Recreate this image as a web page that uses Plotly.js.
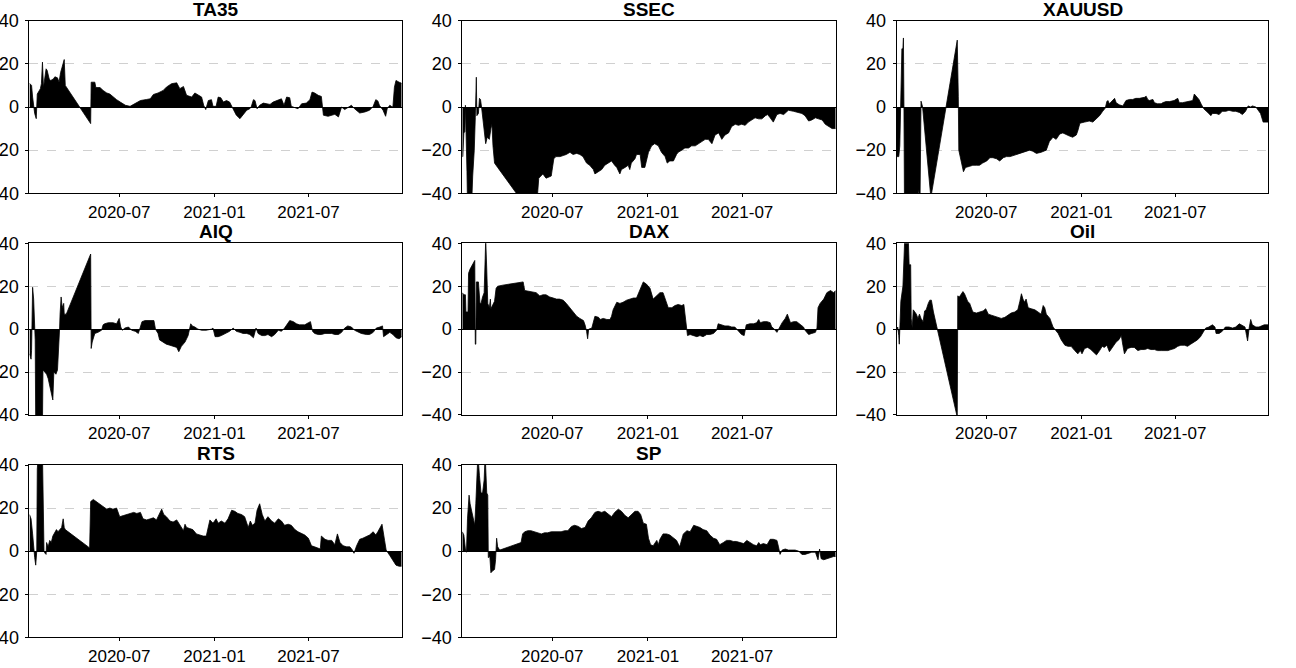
<!DOCTYPE html>
<html>
<head>
<meta charset="utf-8">
<script src="https://cdn.plot.ly/plotly-3.0.1.min.js"></script>
<style>html,body{margin:0;padding:0;background:#fff}#chart{width:1296px;height:668px}</style>
</head>
<body>
<div id="chart"></div>
<script>
const panelNames = ["TA35", "SSEC", "XAUUSD", "AIQ", "DAX", "Oil", "RTS", "SP"];
const yTicks = [-40, -20, 0, 20, 40];
const xTickDates = ["2020-07-01", "2021-01-01", "2021-07-01"];
const xTickLabels = ["2020-07", "2021-01", "2021-07"];
const xRange = ["2020-01-10", "2021-12-28"];

const TA35_dates = ["2020-01-10","2020-01-14","2020-01-16","2020-01-18","2020-01-20","2020-01-23","2020-01-24","2020-01-25","2020-01-31","2020-02-02","2020-02-04","2020-02-06","2020-02-11","2020-02-13","2020-02-17","2020-02-20","2020-02-25","2020-02-28","2020-03-04","2020-03-07","2020-03-10","2020-03-14","2020-03-17","2020-03-19","2020-05-07","2020-05-08","2020-05-15","2020-05-17","2020-05-25","2020-05-31","2020-06-07","2020-06-13","2020-06-19","2020-06-26","2020-07-03","2020-07-13","2020-07-22","2020-07-29","2020-08-04","2020-08-11","2020-08-23","2020-08-30","2020-09-05","2020-09-14","2020-09-24","2020-09-30","2020-10-10","2020-10-20","2020-10-26","2020-11-02","2020-11-08","2020-11-18","2020-11-24","2020-11-30","2020-12-07","2020-12-11","2020-12-15","2020-12-20","2020-12-26","2020-12-29","2021-01-04","2021-01-08","2021-01-13","2021-01-18","2021-01-24","2021-01-30","2021-02-03","2021-02-06","2021-02-12","2021-02-19","2021-02-25","2021-03-04","2021-03-10","2021-03-13","2021-03-17","2021-03-20","2021-03-24","2021-03-29","2021-04-05","2021-04-11","2021-04-18","2021-04-24","2021-05-04","2021-05-10","2021-05-15","2021-05-20","2021-05-26","2021-05-29","2021-06-05","2021-06-11","2021-06-18","2021-06-27","2021-07-04","2021-07-08","2021-07-13","2021-07-20","2021-07-26","2021-07-30","2021-08-08","2021-08-15","2021-08-21","2021-08-28","2021-09-03","2021-09-09","2021-09-15","2021-09-22","2021-09-28","2021-10-08","2021-10-18","2021-10-27","2021-11-03","2021-11-08","2021-11-12","2021-11-15","2021-11-22","2021-11-27","2021-11-30","2021-12-05","2021-12-08","2021-12-11","2021-12-14","2021-12-17","2021-12-23","2021-12-28"];
const TA35_values = [11,10,4.6,0,-3,-5.4,0,6,8.5,10.8,20.8,9,17.7,17,13,12.3,13,14,13.5,11.5,16,20,22,10,-7.7,11.5,11.5,9,9,7.7,6.5,6,4.6,3.4,2.3,0.8,0.3,1.2,2.3,3,3.5,3.8,5.8,6.5,7.7,9.2,10.8,11.2,8.5,9.5,5.4,4.6,6.5,5.8,4.6,0.8,-1.2,3,3.4,0.3,0.3,4.6,4.3,2.3,3,2.3,0.3,-0.8,-3.8,-5.4,-3.8,-1.5,-0.8,0.3,3.4,3,-0.8,0.8,1.8,1.6,1.2,2.3,3.4,3.8,0.8,4.6,4.3,0.3,-0.3,-0.8,1.5,1.8,3.4,6.9,6.5,5.4,4.9,-3.8,-4.3,-3.8,-3.4,-4.6,0,-1.2,-0.3,0.8,-0.8,-2.8,-2.3,-1.5,0.3,3.4,2.8,0.8,-1.5,-4.3,-0.8,0.8,0.3,0,9.2,12.3,11.5,11];

const SSEC_dates = ["2020-01-10","2020-01-11","2020-01-13","2020-01-15","2020-01-16","2020-01-17","2020-01-19","2020-01-20","2020-01-28","2020-01-30","2020-02-02","2020-02-04","2020-02-05","2020-02-06","2020-02-07","2020-02-10","2020-02-12","2020-02-14","2020-02-16","2020-02-18","2020-02-21","2020-02-24","2020-02-27","2020-03-02","2020-03-05","2020-03-07","2020-03-09","2020-03-12","2020-03-18","2020-05-05","2020-06-01","2020-06-05","2020-06-13","2020-06-19","2020-06-29","2020-07-04","2020-07-08","2020-07-16","2020-07-22","2020-07-28","2020-08-04","2020-08-10","2020-08-17","2020-08-23","2020-08-29","2020-09-05","2020-09-11","2020-09-18","2020-09-21","2020-09-27","2020-10-04","2020-10-10","2020-10-17","2020-10-23","2020-10-29","2020-11-02","2020-11-08","2020-11-11","2020-11-18","2020-11-24","2020-11-27","2020-11-30","2020-12-07","2020-12-10","2020-12-17","2020-12-20","2020-12-26","2021-01-02","2021-01-08","2021-01-14","2021-01-21","2021-01-27","2021-02-03","2021-02-07","2021-02-12","2021-02-19","2021-02-25","2021-02-28","2021-03-07","2021-03-13","2021-03-20","2021-03-26","2021-04-02","2021-04-08","2021-04-14","2021-04-21","2021-04-27","2021-05-04","2021-05-10","2021-05-17","2021-05-23","2021-05-29","2021-06-05","2021-06-11","2021-06-18","2021-06-24","2021-06-30","2021-07-07","2021-07-13","2021-07-20","2021-07-26","2021-08-02","2021-08-08","2021-08-15","2021-08-19","2021-08-24","2021-08-30","2021-09-06","2021-09-12","2021-09-19","2021-09-28","2021-10-08","2021-10-14","2021-10-24","2021-10-30","2021-11-06","2021-11-12","2021-11-19","2021-11-25","2021-12-02","2021-12-08","2021-12-14","2021-12-21","2021-12-28"];
const SSEC_values = [-23,-23,-12,-11.5,0.8,-18,-30,-45,-45,-32,-20,-5,10,13.8,-4,-3,4,3.5,0,-4,-10,-17,-14,-15,-10,-8,-18,-26,-28,-44,-46,-33,-31,-33,-32,-24,-23,-23,-22.5,-22,-21,-22,-21.5,-22,-23,-26,-27,-29,-31,-30,-29,-27,-26,-25,-27,-28,-31,-29,-28,-27,-29,-26,-24,-22,-22,-28,-28,-21,-18,-17,-18,-21,-23,-26,-25,-25,-22,-21,-20,-19,-19,-18,-18,-17,-16,-15,-15,-17,-13,-12,-15,-13,-12,-9,-8,-8.5,-8,-8.5,-7,-6,-5,-5.5,-5.5,-4,-3.5,-5,-7,-3.5,-3,-3.5,-1.5,-2,-2.5,-3,-4,-6.5,-6,-5,-5.5,-6,-8,-9,-10,-10];

const XAUUSD_dates = ["2020-01-10","2020-01-14","2020-01-16","2020-01-17","2020-01-18","2020-01-20","2020-01-22","2020-01-23","2020-01-24","2020-01-25","2020-02-18","2020-02-21","2020-02-24","2020-02-26","2020-02-28","2020-02-29","2020-03-16","2020-05-06","2020-05-08","2020-05-09","2020-05-18","2020-05-22","2020-05-30","2020-06-05","2020-06-12","2020-06-18","2020-06-24","2020-07-02","2020-07-08","2020-07-14","2020-07-21","2020-07-27","2020-08-03","2020-08-09","2020-08-16","2020-08-22","2020-08-28","2020-09-04","2020-09-10","2020-09-16","2020-09-23","2020-09-29","2020-10-06","2020-10-15","2020-10-25","2020-10-31","2020-11-07","2020-11-13","2020-11-20","2020-11-26","2020-12-03","2020-12-09","2020-12-15","2020-12-22","2020-12-25","2020-12-29","2021-01-07","2021-01-16","2021-01-23","2021-01-29","2021-02-05","2021-02-11","2021-02-16","2021-02-19","2021-02-21","2021-02-24","2021-03-03","2021-03-06","2021-03-09","2021-03-15","2021-03-22","2021-03-28","2021-04-04","2021-04-10","2021-04-16","2021-04-23","2021-05-03","2021-05-06","2021-05-09","2021-05-12","2021-05-19","2021-05-22","2021-05-28","2021-06-04","2021-06-07","2021-06-13","2021-06-20","2021-06-29","2021-07-06","2021-07-09","2021-07-15","2021-07-25","2021-07-31","2021-08-04","2021-08-07","2021-08-11","2021-08-16","2021-08-21","2021-08-26","2021-09-02","2021-09-08","2021-09-11","2021-09-18","2021-09-24","2021-09-30","2021-10-07","2021-10-13","2021-10-20","2021-10-26","2021-11-02","2021-11-08","2021-11-14","2021-11-19","2021-11-24","2021-11-27","2021-12-04","2021-12-09","2021-12-13","2021-12-18","2021-12-28"];
const XAUUSD_values = [-23,-23,-18,-5,13,27,27,32,0,-45,-45,-38,-45,2.7,1,0,-42,31,5,-20,-30,-28,-27.5,-27,-27,-27,-26,-25,-23.5,-23.5,-24,-25,-23.5,-23,-23,-22.5,-22,-21.5,-21,-20.5,-20,-20.5,-21.5,-21,-20,-16,-14,-15,-12.5,-12,-13,-13.5,-14,-13,-11,-7.5,-7,-6.5,-7,-5.5,-4,-2,-0.5,2.5,3,1.5,3.5,4,2,1,0.5,3,3.5,3.5,4,4,4.5,5,3.5,3,3.5,2,1.5,1.5,2,2.5,2.5,3,4,2,2,2.5,2.5,3,6,5,3.5,1,-1,-2.5,-4,-3,-3,-3.5,-2,-2,-1.5,-2,-2,-2.5,-3.5,-2,0.5,0,0.5,0,-1.5,-3,-7,-7];

const AIQ_dates = ["2020-01-10","2020-01-13","2020-01-14","2020-01-16","2020-01-18","2020-01-20","2020-01-21","2020-01-22","2020-02-04","2020-02-05","2020-02-12","2020-02-15","2020-02-18","2020-02-21","2020-02-24","2020-02-26","2020-03-01","2020-03-04","2020-03-06","2020-03-08","2020-03-09","2020-03-11","2020-03-13","2020-03-16","2020-03-17","2020-03-21","2020-05-07","2020-05-08","2020-05-10","2020-05-15","2020-05-21","2020-05-28","2020-05-31","2020-06-03","2020-06-10","2020-06-19","2020-06-26","2020-07-01","2020-07-04","2020-07-07","2020-07-12","2020-07-19","2020-07-25","2020-08-01","2020-08-07","2020-08-14","2020-08-20","2020-08-30","2020-09-06","2020-09-09","2020-09-14","2020-09-17","2020-09-24","2020-09-30","2020-10-07","2020-10-13","2020-10-20","2020-10-24","2020-10-29","2020-11-05","2020-11-11","2020-11-16","2020-11-19","2020-11-24","2020-11-30","2020-12-07","2020-12-16","2020-12-26","2020-12-29","2021-01-02","2021-01-08","2021-01-14","2021-01-21","2021-01-30","2021-02-06","2021-02-12","2021-02-19","2021-02-25","2021-03-04","2021-03-10","2021-03-17","2021-03-22","2021-03-26","2021-04-02","2021-04-08","2021-04-14","2021-04-21","2021-04-27","2021-05-04","2021-05-10","2021-05-16","2021-05-21","2021-05-26","2021-06-02","2021-06-08","2021-06-14","2021-06-24","2021-07-01","2021-07-05","2021-07-09","2021-07-13","2021-07-20","2021-07-26","2021-08-02","2021-08-08","2021-08-15","2021-08-21","2021-08-28","2021-09-03","2021-09-09","2021-09-15","2021-09-22","2021-09-28","2021-10-05","2021-10-11","2021-10-21","2021-10-27","2021-11-03","2021-11-09","2021-11-16","2021-11-21","2021-11-23","2021-11-28","2021-12-05","2021-12-11","2021-12-17","2021-12-23","2021-12-28"];
const AIQ_values = [-11.5,-14,-10,19.5,14,3,-5,-45,-45,-19,-21,-23,-26,-30,-33,-20,-21,-19,-12,0,7,15,10,12,7,7,35,-9,-6,-2,-1.5,-0.5,2,2.5,3,3,2.5,5,1,-0.5,0.5,1,-0.5,-1,-2,3.5,4,4,4,0,-2,-5,-6,-7,-7.5,-8,-8.5,-10.5,-8,-6,-3,2.5,1.5,1,0,-0.5,-0.5,0,0.5,-3.5,-3.5,-3,-2,-1,0.5,-1,-1.5,-2,-2,-2.5,-4,0.5,-2,-3,-3,-2.5,-3.5,-2.5,-0.5,-1,0.5,2.5,4,3.5,2.5,2,2,3,3.5,-1,-2,-2.5,-2.5,-2,-2,-2,-2.5,-2.5,-1.5,0.5,1.5,1,-0.5,-1.5,-2,-2.5,-2.5,-1.5,0.5,1,1.5,-3.5,-2.5,-1.5,-2.5,-4,-4.5,-3.5];

const DAX_dates = ["2020-01-10","2020-01-13","2020-01-16","2020-01-17","2020-01-21","2020-01-22","2020-01-25","2020-01-30","2020-02-03","2020-02-04","2020-02-05","2020-02-06","2020-02-10","2020-02-13","2020-02-15","2020-02-18","2020-02-21","2020-02-23","2020-02-24","2020-02-26","2020-02-28","2020-03-02","2020-03-04","2020-03-05","2020-03-08","2020-03-12","2020-03-15","2020-03-18","2020-03-28","2020-04-10","2020-04-23","2020-04-30","2020-05-06","2020-05-09","2020-05-18","2020-05-31","2020-06-07","2020-06-13","2020-06-19","2020-06-26","2020-07-03","2020-07-09","2020-07-15","2020-07-22","2020-07-28","2020-08-04","2020-08-11","2020-08-17","2020-08-23","2020-08-30","2020-09-02","2020-09-05","2020-09-07","2020-09-09","2020-09-15","2020-09-18","2020-09-21","2020-09-28","2020-10-01","2020-10-07","2020-10-14","2020-10-20","2020-10-23","2020-10-26","2020-10-30","2020-11-02","2020-11-08","2020-11-14","2020-11-21","2020-11-27","2020-12-04","2020-12-10","2020-12-16","2020-12-23","2020-12-29","2021-01-05","2021-01-11","2021-01-17","2021-01-24","2021-01-30","2021-02-03","2021-02-09","2021-02-16","2021-02-22","2021-02-28","2021-03-07","2021-03-11","2021-03-15","2021-03-18","2021-03-23","2021-03-29","2021-04-05","2021-04-11","2021-04-17","2021-04-24","2021-04-30","2021-05-07","2021-05-13","2021-05-16","2021-05-23","2021-05-29","2021-06-05","2021-06-11","2021-06-17","2021-06-24","2021-06-30","2021-07-05","2021-07-09","2021-07-16","2021-07-23","2021-07-29","2021-08-02","2021-08-05","2021-08-11","2021-08-18","2021-08-24","2021-08-27","2021-08-30","2021-09-06","2021-09-11","2021-09-16","2021-09-22","2021-09-26","2021-10-02","2021-10-08","2021-10-14","2021-10-21","2021-10-27","2021-10-30","2021-11-06","2021-11-12","2021-11-19","2021-11-22","2021-11-24","2021-11-28","2021-12-05","2021-12-11","2021-12-18","2021-12-24","2021-12-28"];
const DAX_values = [17,16,16,8,8,26,28,30,32,-7,-7,22,22,12,12,15,17,33,42,28,12,10,14,9.5,11,13,19,20,20.5,21,21.5,22,22,18,17.5,17,15.5,16,16,15,14.5,14,14,13.5,12,10,8,6,5,4,2,-1,-4.5,0,0.5,4,6,5.5,4.5,5,4.5,4.5,6,9,11,12.5,12,12.5,13.5,14,14.5,14.5,18,22,21,19,14,15.5,17,17,14,10,10,11,11.5,11,11.5,4,-3,-2.5,-3,-3.5,-3,-3.5,-2.5,-2.5,-2,-0.5,2.5,2,1.5,1.5,1,1,-1,-2.5,-3,2,2.5,2.5,3,4.5,3,3.5,3.5,3,1,0.5,-1.5,1,3,5,7,3,3.5,3.5,2,1,-0.5,-2.5,-2,-1.5,0.5,10,12,14,17,18,17,18];

const Oil_dates = ["2020-01-10","2020-01-12","2020-01-14","2020-01-15","2020-01-16","2020-01-18","2020-01-22","2020-01-24","2020-01-26","2020-02-01","2020-02-03","2020-02-06","2020-02-07","2020-02-09","2020-02-11","2020-02-14","2020-02-17","2020-02-20","2020-02-23","2020-02-26","2020-03-01","2020-03-04","2020-03-07","2020-03-11","2020-03-14","2020-03-17","2020-03-19","2020-03-21","2020-05-06","2020-05-07","2020-05-10","2020-05-14","2020-05-17","2020-05-20","2020-05-23","2020-05-26","2020-05-30","2020-06-02","2020-06-05","2020-06-12","2020-06-18","2020-06-25","2020-06-30","2020-07-05","2020-07-11","2020-07-17","2020-07-24","2020-07-30","2020-08-06","2020-08-12","2020-08-18","2020-08-25","2020-08-31","2020-09-04","2020-09-07","2020-09-10","2020-09-13","2020-09-16","2020-09-20","2020-09-26","2020-10-03","2020-10-09","2020-10-15","2020-10-19","2020-10-22","2020-10-25","2020-10-28","2020-11-01","2020-11-04","2020-11-07","2020-11-12","2020-11-17","2020-11-23","2020-11-30","2020-12-06","2020-12-12","2020-12-19","2020-12-25","2020-12-30","2021-01-02","2021-01-07","2021-01-13","2021-01-19","2021-01-26","2021-01-30","2021-02-05","2021-02-10","2021-02-14","2021-02-19","2021-02-24","2021-03-03","2021-03-09","2021-03-14","2021-03-19","2021-03-22","2021-03-25","2021-03-31","2021-04-07","2021-04-13","2021-04-20","2021-04-26","2021-05-03","2021-05-09","2021-05-15","2021-05-22","2021-05-28","2021-06-04","2021-06-10","2021-06-17","2021-06-23","2021-06-30","2021-07-06","2021-07-12","2021-07-19","2021-07-25","2021-07-31","2021-08-07","2021-08-13","2021-08-19","2021-08-26","2021-08-29","2021-09-04","2021-09-11","2021-09-16","2021-09-18","2021-09-24","2021-09-30","2021-10-06","2021-10-13","2021-10-20","2021-10-26","2021-11-02","2021-11-08","2021-11-13","2021-11-16","2021-11-18","2021-11-21","2021-11-24","2021-11-27","2021-12-04","2021-12-10","2021-12-17","2021-12-20","2021-12-28"];
const Oil_values = [0.5,1,-3,-7,0,13,20,40,45,45,30,30,5,0.5,9,8,7,5,7,5,3.5,8.5,9,12,13.5,13.5,10,8,-41,15.5,15,16.5,17.5,16.5,15,13,12,10,8,7.5,8,8.5,9.5,7,6.5,6,5.5,5,5.5,6.5,7.5,8,9,13,16.5,14,12.5,14,10,9.5,9,8,7,11,10,7,6,5,3,1,-0.5,-2,-5,-7.5,-8,-8,-10,-11.5,-10,-11.5,-9,-8.5,-9.5,-11,-12,-10,-8,-8.5,-7.5,-10.5,-8,-6,-5,-3,-7.5,-11.5,-9,-8.5,-8.5,-10,-9.5,-9.5,-9,-9.5,-9.5,-10,-10,-10,-10,-9.5,-9,-8,-7.5,-7.5,-8,-7,-6,-5,-3.5,-1,0.5,1,2,1,-2,-2,-1,1,1,0.5,1,2.5,1.5,1,-3,-5.5,0.5,4.5,2,1,1,1.5,2,2];

const RTS_dates = ["2020-01-10","2020-01-13","2020-01-16","2020-01-18","2020-01-20","2020-01-22","2020-01-24","2020-01-25","2020-01-27","2020-02-04","2020-02-05","2020-02-07","2020-02-09","2020-02-11","2020-02-12","2020-02-15","2020-02-18","2020-02-21","2020-02-24","2020-02-28","2020-03-02","2020-03-05","2020-03-09","2020-03-12","2020-03-15","2020-03-17","2020-03-19","2020-05-05","2020-05-07","2020-05-12","2020-05-15","2020-05-18","2020-05-25","2020-05-31","2020-06-07","2020-06-13","2020-06-19","2020-06-26","2020-07-02","2020-07-09","2020-07-16","2020-07-22","2020-07-29","2020-08-04","2020-08-11","2020-08-16","2020-08-23","2020-08-30","2020-09-05","2020-09-11","2020-09-18","2020-09-21","2020-09-25","2020-09-30","2020-10-07","2020-10-13","2020-10-20","2020-10-26","2020-11-02","2020-11-05","2020-11-08","2020-11-14","2020-11-20","2020-11-27","2020-12-04","2020-12-10","2020-12-16","2020-12-20","2020-12-23","2020-12-29","2021-01-04","2021-01-08","2021-01-14","2021-01-21","2021-01-27","2021-02-03","2021-02-09","2021-02-15","2021-02-22","2021-02-28","2021-03-07","2021-03-11","2021-03-15","2021-03-20","2021-03-24","2021-03-29","2021-04-03","2021-04-08","2021-04-14","2021-04-21","2021-04-27","2021-05-04","2021-05-10","2021-05-16","2021-05-23","2021-05-29","2021-06-05","2021-06-11","2021-06-18","2021-06-24","2021-07-01","2021-07-07","2021-07-13","2021-07-20","2021-07-24","2021-07-26","2021-08-02","2021-08-08","2021-08-15","2021-08-21","2021-08-26","2021-08-31","2021-09-06","2021-09-13","2021-09-19","2021-09-24","2021-09-27","2021-10-02","2021-10-08","2021-10-14","2021-10-21","2021-10-27","2021-11-03","2021-11-08","2021-11-12","2021-11-17","2021-11-20","2021-11-25","2021-11-28","2021-12-05","2021-12-11","2021-12-17","2021-12-23","2021-12-28"];
const RTS_values = [17,15,8,0,-3,-6.5,0,38,45,45,25,0,-1,-1.5,4,2,5,4,7,9,10,9,10,11,15,11,10,1.5,23,24,23.5,23,22,21,19.5,20,19.5,20,16,16.5,17,17.5,18,17.5,18,15,14.5,15,15.5,14.5,18,19.5,17,16,14,13.5,14.5,12,9.5,12.5,11,10.5,10,8,7.5,7,7,12,14.5,13,15,13,14,13,15,19,18.5,17.5,17,16,11,14,12,13,19,22,17,14,16,14,13,15,14,12,12.5,12,10,9,8,7.5,6,2.5,2,1.5,1,7,5.5,5,5,3,8,4,2.5,2,2,0.5,-1,2.5,5.5,6,7,7.5,9,7.5,9,11,12.5,5,0.5,-2,-4,-6.5,-7,-7];

const SP_dates = ["2020-01-10","2020-01-13","2020-01-16","2020-01-18","2020-01-20","2020-01-23","2020-01-25","2020-01-29","2020-02-03","2020-02-05","2020-02-07","2020-02-09","2020-02-12","2020-02-15","2020-02-18","2020-02-21","2020-02-23","2020-02-26","2020-02-28","2020-02-29","2020-03-03","2020-03-05","2020-03-09","2020-03-12","2020-03-14","2020-03-16","2020-03-18","2020-03-22","2020-05-02","2020-05-05","2020-05-09","2020-05-15","2020-05-21","2020-05-28","2020-06-03","2020-06-10","2020-06-16","2020-06-22","2020-06-29","2020-07-06","2020-07-12","2020-07-18","2020-07-25","2020-07-31","2020-08-07","2020-08-13","2020-08-20","2020-08-26","2020-09-02","2020-09-08","2020-09-14","2020-09-21","2020-09-27","2020-10-04","2020-10-10","2020-10-17","2020-10-23","2020-10-29","2020-11-05","2020-11-11","2020-11-18","2020-11-24","2020-11-30","2020-12-07","2020-12-13","2020-12-18","2020-12-23","2020-12-29","2021-01-02","2021-01-06","2021-01-11","2021-01-18","2021-01-21","2021-01-24","2021-01-30","2021-02-06","2021-02-12","2021-02-19","2021-02-25","2021-03-03","2021-03-05","2021-03-10","2021-03-17","2021-03-23","2021-03-30","2021-04-05","2021-04-11","2021-04-17","2021-04-24","2021-04-30","2021-05-07","2021-05-13","2021-05-19","2021-05-26","2021-06-01","2021-06-08","2021-06-14","2021-06-20","2021-06-27","2021-07-04","2021-07-10","2021-07-16","2021-07-23","2021-07-29","2021-08-02","2021-08-05","2021-08-11","2021-08-18","2021-08-24","2021-08-30","2021-09-06","2021-09-09","2021-09-12","2021-09-16","2021-09-22","2021-09-28","2021-10-05","2021-10-11","2021-10-18","2021-10-24","2021-10-30","2021-11-06","2021-11-12","2021-11-19","2021-11-24","2021-11-27","2021-11-30","2021-12-05","2021-12-11","2021-12-18","2021-12-24","2021-12-28"];
const SP_values = [9,7.5,1,-0.5,15,26,22,17,12,22,40,45,35,27,27,33,45,27,26,-3,-2.5,-10,-9,-8.5,-4,6,2,0.5,4,8,9,9.5,9.5,9,8.5,8,8.5,8.5,9,9,9,9,9.5,9.5,11.5,12,11.5,10.5,11,14,15.5,18,18.5,18,18.5,17,16,18,19.5,18.5,16.5,15.5,17,18.5,18.5,17,13,12.5,6,3,2.5,5,3,5.5,8,8,7.5,6,5,2,4,8,9.5,9,12,11.5,11,10,9.5,7.5,6,5.5,3,4,5,5,4.5,4.5,4,3.5,5,4,3,2.5,4,3,3.5,3,5.5,5.5,5,2,-1.5,0.5,1,0.5,0.5,0.5,0,-1.5,-1.5,-1,-0.5,-0.5,-4,1,-3.5,-4,-3.5,-3,-2.5,-2.5];

const seriesDates = [TA35_dates, SSEC_dates, XAUUSD_dates, AIQ_dates, DAX_dates, Oil_dates, RTS_dates, SP_dates];
const seriesValues = [TA35_values, SSEC_values, XAUUSD_values, AIQ_values, DAX_values, Oil_values, RTS_values, SP_values];

const colDomains = [[0.02276, 0.30995], [0.35671, 0.64483], [0.69190, 0.97863]];
const rowDomains = [[0.71063, 0.96901], [0.37874, 0.63578], [0.04596, 0.30389]];
const titleY = [0.9855, 0.6534, 0.3211];

const FONT = "Liberation Sans, Arial, sans-serif";
const traces = [];
const layout = {
  width: 1296, height: 668,
  margin: {l: 0, r: 0, t: 0, b: 0},
  paper_bgcolor: "#ffffff", plot_bgcolor: "#ffffff",
  showlegend: false,
  font: {family: FONT, color: "#000000", size: 16},
  annotations: []
};

panelNames.forEach((name, i) => {
  const r = Math.floor(i / 3), c = i % 3;
  const sfx = i === 0 ? "" : String(i + 1);
  traces.push({
    type: "scatter", mode: "lines",
    x: seriesDates[i], y: seriesValues[i],
    xaxis: "x" + sfx, yaxis: "y" + sfx,
    fill: "tozeroy", fillcolor: "#000000",
    line: {color: "#000000", width: 0.8},
    hoverinfo: "skip"
  });
  layout["xaxis" + sfx] = {
    domain: colDomains[c], anchor: "y" + sfx, type: "date",
    range: xRange, showgrid: false, zeroline: false,
    tickvals: xTickDates, ticktext: xTickLabels,
    ticks: "outside", ticklen: 3, tickwidth: 1, tickcolor: "#000",
    showline: true, mirror: true, linecolor: "#000", linewidth: 1,
    tickfont: {family: FONT, size: 17, color: "#000"}
  };
  layout["yaxis" + sfx] = {
    domain: rowDomains[r], anchor: "x" + sfx,
    range: [-40, 40], tickvals: yTicks,
    showgrid: true, gridcolor: "#d0d0d0", griddash: "dash", gridwidth: 1,
    zeroline: true, zerolinecolor: "#000", zerolinewidth: 1,
    ticks: "outside", ticklen: 3, tickwidth: 1, tickcolor: "#000",
    ticklabelstandoff: 3,
    showline: true, mirror: true, linecolor: "#000", linewidth: 1,
    tickfont: {family: FONT, size: 18, color: "#000"}
  };
  layout.annotations.push({
    text: "<b>" + name + "</b>", xref: "paper", yref: "paper",
    x: (colDomains[c][0] + colDomains[c][1]) / 2, y: titleY[r],
    xanchor: "center", yanchor: "middle", showarrow: false,
    font: {family: FONT, size: 19, color: "#000"}
  });
});

Plotly.newPlot("chart", traces, layout, {staticPlot: true, displayModeBar: false});
</script>
</body>
</html>
